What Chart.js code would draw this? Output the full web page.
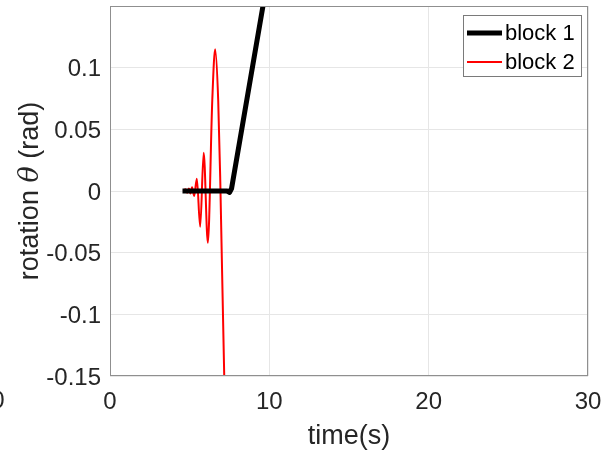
<!DOCTYPE html>
<html>
<head>
<meta charset="utf-8">
<title>Block rotation</title>
<script src="https://cdn.jsdelivr.net/npm/chart.js@4.4.1/dist/chart.umd.min.js"></script>
<style>
    html, body { margin: 0; padding: 0; background: #fff; }
    #wrap { width: 613px; height: 457px; }
</style>
</head>
<body>
<div id="wrap"><canvas id="rotationChart"></canvas></div>
<script>
// block 1: sits flat, then tips over
const block1Time  = [4.55, 7.35, 7.50, 7.63, 9.60, 10.20];
const block1Theta = [0, 0, -0.0012, 0.002, 0.15, 0.195];

// block 2: growing oscillation
const block2Time  = [4.60, 4.75, 4.85, 4.95, 5.05, 5.15, 5.28, 5.45, 5.66, 5.88, 6.14, 6.42, 6.60, 6.79, 6.92, 7.17, 7.35];
const block2Theta = [0, 0.0015, -0.0015, 0.002, -0.002, 0.003, -0.004, 0.010, -0.029, 0.031, -0.042, 0.074, 0.115, 0.074, 0.009, -0.15, -0.22];

const timeTicks  = [0, 10, 20, 30];
const thetaTicks = [-0.15, -0.1, -0.05, 0, 0.05, 0.1];

const FONT = '"Liberation Sans", Arial, Helvetica, sans-serif';
const TEXT = '#262626';

function toPoints(xs, ys) {
    return xs.map(function (x, i) { return { x: x, y: ys[i] }; });
}

// box round the plot, axis titles and the legend
const decorations = {
    id: 'decorations',
    afterDatasetsDraw: function (chart) {
        const ctx = chart.ctx;
        const a = chart.chartArea;
        ctx.save();
        ctx.strokeStyle = '#8f8f8f';
        ctx.lineWidth = 1;
        ctx.strokeRect(a.left + 0.5, a.top + 0.5, a.right - a.left - 1, a.bottom - a.top - 1);

        // legend
        const lx = 463, ly = 15, lw = 118, lh = 61;
        ctx.fillStyle = '#fff';
        ctx.fillRect(lx, ly, lw, lh);
        ctx.strokeStyle = '#7a7a7a';
        ctx.strokeRect(lx + 0.5, ly + 0.5, lw, lh);
        ctx.font = '22px ' + FONT;
        ctx.textBaseline = 'middle';
        ctx.textAlign = 'left';
        chart.data.datasets.forEach(function (ds, i) {
            const y = 33 + i * 29;
            ctx.beginPath();
            ctx.strokeStyle = ds.borderColor;
            ctx.lineWidth = ds.borderWidth;
            ctx.moveTo(467, y);
            ctx.lineTo(502, y);
            ctx.stroke();
            ctx.fillStyle = '#000';
            ctx.fillText(ds.label, 505, y + 1);
        });
        ctx.restore();
    },
    afterDraw: function (chart) {
        const ctx = chart.ctx;
        const a = chart.chartArea;
        ctx.save();
        ctx.fillStyle = TEXT;
        ctx.textBaseline = 'middle';

        // x title
        ctx.font = '27px ' + FONT;
        ctx.textAlign = 'center';
        ctx.fillText('time(s)', (a.left + a.right) / 2, 437);

        // leftover tick label at the left edge
        ctx.font = '24px ' + FONT;
        ctx.fillText('0', -2, 401);

        // y title with italic theta
        const parts = [
            { t: 'rotation ', f: '27px ' + FONT },
            { t: 'θ', f: 'italic 27px "DejaVu Serif", "Liberation Serif", serif' },
            { t: ' (rad)', f: '27px ' + FONT }
        ];
        let total = 0;
        parts.forEach(function (p) { ctx.font = p.f; p.w = ctx.measureText(p.t).width; total += p.w; });
        ctx.translate(31, (a.top + a.bottom) / 2);
        ctx.rotate(-Math.PI / 2);
        ctx.textAlign = 'left';
        let x = -total / 2;
        parts.forEach(function (p) { ctx.font = p.f; ctx.fillText(p.t, x, 0); x += p.w; });
        ctx.restore();
    }
};

let rotationCanvas = document.getElementById('rotationChart');
let rotationChart = new Chart(rotationCanvas, {
    type: 'line',
    data: {
        datasets: [
            {
                label: 'block 1',
                data: toPoints(block1Time, block1Theta),
                borderColor: '#000000',
                borderWidth: 5,
                borderJoinStyle: 'round',
                pointRadius: 0,
                tension: 0,
                clip: 0
            },
            {
                label: 'block 2',
                data: toPoints(block2Time, block2Theta),
                borderColor: '#ff0000',
                borderWidth: 2,
                pointRadius: 0,
                cubicInterpolationMode: 'monotone',
                clip: 0
            }
        ]
    },
    options: {
        responsive: true,
        maintainAspectRatio: false,
        animation: false,
        layout: { padding: { top: 6, right: 25, left: 0, bottom: 0 } },
        plugins: {
            legend: { display: false },
            tooltip: { enabled: false }
        },
        scales: {
            x: {
                type: 'linear',
                min: 0,
                max: 30,
                afterBuildTicks: function (scale) {
                    scale.ticks = timeTicks.map(function (v) { return { value: v }; });
                },
                afterFit: function (scale) {
                    scale.height = 81;
                    scale.paddingLeft = 0;
                    scale.paddingRight = 0;
                },
                grid: { color: '#e6e6e6', drawTicks: false },
                border: { display: false },
                ticks: {
                    padding: 12,
                    color: TEXT,
                    font: { family: FONT, size: 24 },
                    maxRotation: 0,
                    callback: function (v) { return String(v); }
                }
            },
            y: {
                type: 'linear',
                min: -0.15,
                max: 0.15,
                afterBuildTicks: function (scale) {
                    scale.ticks = thetaTicks.map(function (v) { return { value: v }; });
                },
                afterFit: function (scale) {
                    scale.width = 110;
                    scale.paddingTop = 0;
                    scale.paddingBottom = 0;
                },
                grid: { color: '#e6e6e6', drawTicks: false },
                border: { display: false },
                ticks: {
                    padding: 9,
                    labelOffset: 2,
                    color: TEXT,
                    font: { family: FONT, size: 24 },
                    callback: function (v) { return String(v); }
                }
            }
        }
    },
    plugins: [decorations]
});
</script>
</body>
</html>
